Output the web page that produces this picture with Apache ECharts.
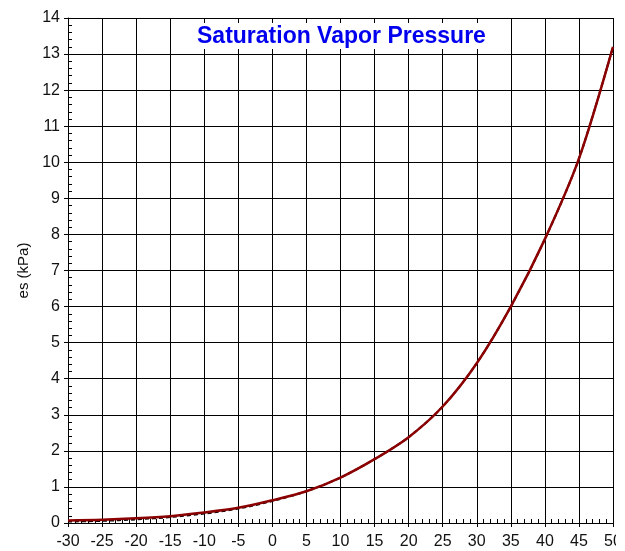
<!DOCTYPE html>
<html>
<head>
<meta charset="utf-8">
<script src="https://cdn.jsdelivr.net/npm/echarts@6/dist/echarts.min.js"></script>
<style>
html,body{margin:0;padding:0;background:#fff;overflow:hidden;}
#chart{width:616px;height:551px;}
</style>
</head>
<body>
<div id="chart"></div>
<script>
// Temperature (°C)
const temps = [-30, -25, -20, -15, -10, -5, 0, 5, 10, 15, 20, 25, 30, 35, 40, 45, 50];
// Saturation vapor pressure, red curve (kPa)
const esWater = [0.07, 0.09, 0.13, 0.19, 0.29, 0.42, 0.63, 0.88, 1.26, 1.77, 2.38, 3.23, 4.43, 6.0, 7.87, 10.1, 13.2];
// Black dashed curve underneath (kPa)
const esBlack = [0.04, 0.06, 0.10, 0.165, 0.26, 0.40, 0.61, 0.88, 1.26, 1.77, 2.38, 3.23, 4.43, 6.0, 7.87, 10.1, 13.2];
const title = 'Saturation Vapor Pressure';
const yName = 'es (kPa)';

const chart = echarts.init(document.getElementById('chart'), null, {renderer: 'canvas'});
const font = 'Liberation Sans, Arial, Helvetica, sans-serif';
const pairs = (xs, ys) => xs.map((x, i) => [x, ys[i]]);

chart.setOption({
  animation: false,
  backgroundColor: '#fff',
  title: {
    text: title,
    left: 190,
    top: 23,
    padding: [2, 7, 1, 7],
    backgroundColor: '#fff',
    textStyle: {color: '#0000ee', fontWeight: 'bold', fontSize: 23, fontFamily: font, lineHeight: 23}
  },
  grid: {left: 68, right: 3, top: 18, bottom: 28, containLabel: false, outerBoundsMode: 'none'},
  xAxis: [{
    type: 'value', min: -30, max: 50, interval: 5,
    axisLine: {show: true, onZero: false, lineStyle: {color: '#000', width: 1}},
    axisTick: {show: true, length: 4, lineStyle: {color: '#000'}},
    axisLabel: {color: '#111', fontSize: 16, fontFamily: font, margin: 11, showMinLabel: true, showMaxLabel: true, hideOverlap: false},
    splitLine: {show: true, lineStyle: {color: '#000', width: 1}}
  }, {
    type: 'value', min: -30, max: 50, interval: 5, position: 'bottom', gridIndex: 0,
    axisLine: {show: false, onZero: false},
    axisTick: {show: false, inside: true},
    axisLabel: {show: false},
    splitLine: {show: false},
    minorTick: {show: true, splitNumber: 5, length: 4, lineStyle: {color: '#000'}}
  }],
  yAxis: [{
    type: 'value', min: 0, max: 14, interval: 1,
    name: yName, nameLocation: 'middle', nameGap: 36,
    nameTextStyle: {color: '#111', fontSize: 15, fontFamily: font},
    axisLine: {show: true, onZero: false, lineStyle: {color: '#000', width: 1}},
    axisTick: {show: true, length: 4, lineStyle: {color: '#000'}},
    axisLabel: {color: '#111', fontSize: 16, fontFamily: font, margin: 8},
    splitLine: {show: true, lineStyle: {color: '#000', width: 1}}
  }, {
    type: 'value', min: 0, max: 14, interval: 1, position: 'left',
    axisLine: {show: false, onZero: false},
    axisTick: {show: false, inside: true},
    axisLabel: {show: false},
    splitLine: {show: false},
    minorTick: {show: true, splitNumber: 5, length: 4, lineStyle: {color: '#000'}}
  }],
  series: [{
    type: 'line', xAxisIndex: 0, yAxisIndex: 0,
    data: pairs(temps, esBlack), smooth: 0.3, symbol: 'none',
    lineStyle: {color: '#000', width: 2, type: [4, 3]}, z: 3
  }, {
    type: 'line', xAxisIndex: 0, yAxisIndex: 0,
    data: pairs(temps, esWater), smooth: 0.3, symbol: 'none',
    lineStyle: {color: '#8b0000', width: 2.5}, z: 4
  }]
});
</script>
</body>
</html>
